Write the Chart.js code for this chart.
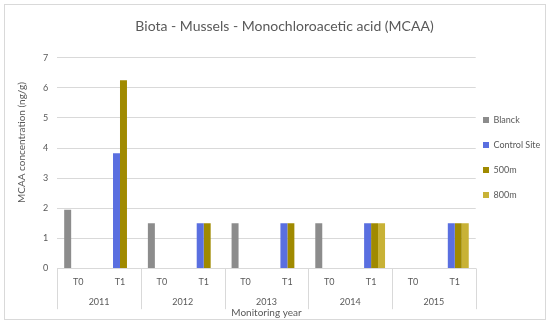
<!DOCTYPE html>
<html>
<head>
<meta charset="utf-8">
<script src="https://cdn.jsdelivr.net/npm/chart.js@4/dist/chart.umd.min.js"></script>
<style>
  html, body { margin: 0; padding: 0; background: #ffffff; }
  #wrap { position: relative; width: 550px; height: 324px; }
</style>
</head>
<body>
<div id="wrap"><canvas id="c" width="550" height="324"></canvas></div>
<script>
// ---- data ----
const phases = ['T0', 'T1', 'T0', 'T1', 'T0', 'T1', 'T0', 'T1', 'T0', 'T1'];
const years = ['2011', '2012', '2013', '2014', '2015'];
const seriesNames = ['Blanck', 'Control Site', '500m', '800m'];
const blanck      = [1.95, null, 1.5, null, 1.5, null, 1.5, null, null, null];
const controlSite = [null, 3.83, null, 1.5, null, 1.5, null, 1.5, null, 1.5];
const m500        = [null, 6.25, null, 1.5, null, 1.5, null, 1.5, null, 1.5];
const m800        = [null, null, null, null, null, null, null, 1.5, null, 1.5];
const yTicks = [0, 1, 2, 3, 4, 5, 6, 7];

const colors = ['#8c8c8c', '#5a6fe0', '#a08a00', '#c8b236'];
const textColor = '#595959';
const gridColor = '#d9d9d9';
const FONT = 'Lato, "Open Sans", "Liberation Sans", sans-serif';

// The y title in the reference sits ~20px above the plot's centre:
// pad it with leading spaces measured in the title font.
const yTitleText = 'MCAA concentration (ng/g)';
const mctx = document.createElement('canvas').getContext('2d');
mctx.font = '10px ' + FONT;
const spaceW = mctx.measureText(' ').width || 2.5;
const yTitle = ' '.repeat(Math.round(41 / spaceW)) + yTitleText;

const borderPlugin = {
  id: 'outerBorder',
  beforeDraw(chart) {
    const ctx = chart.ctx;
    ctx.save();
    ctx.strokeStyle = gridColor;
    ctx.lineWidth = 1;
    ctx.strokeRect(4.5, 4.5, 541, 315);
    ctx.restore();
  }
};

// year separators spanning both label rows, placed with the year scale
const separators = {
  id: 'yearSeparators',
  afterDraw(chart) {
    const s = chart.scales.x2;
    const ctx = chart.ctx;
    const y0 = chart.chartArea.bottom;
    const y1 = s.top + 22;
    ctx.save();
    ctx.strokeStyle = gridColor;
    ctx.lineWidth = 1;
    for (let i = 0; i <= years.length; i++) {
      const px = Math.round(s.getPixelForValue(i - 0.5)) + 0.5;
      ctx.beginPath();
      ctx.moveTo(px, y0);
      ctx.lineTo(px, y1);
      ctx.stroke();
    }
    ctx.restore();
  }
};

const legendPlace = {
  id: 'legendPlace',
  afterLayout(chart) {
    const lg = chart.legend;
    if (!lg) return;
    const pad = lg.options.labels.padding;
    lg.left = 483 - pad;
    lg.top = 120 - pad - 4.5;
  }
};

const seriesData = [blanck, controlSite, m500, m800];

new Chart(document.getElementById('c'), {
  type: 'bar',
  data: {
    labels: phases,
    datasets: seriesNames.map((n, i) => ({
      label: n,
      data: seriesData[i],
      backgroundColor: colors[i],
      borderWidth: 0,
      categoryPercentage: 0.667,
      barPercentage: 1.0,
      xAxisID: 'x',
      yAxisID: 'y'
    }))
  },
  options: {
    responsive: false,
    animation: false,
    devicePixelRatio: 1,
    layout: { padding: { left: 10, right: -9, top: 8, bottom: 5 } },
    plugins: {
      title: {
        display: true,
        text: 'Biota - Mussels - Monochloroacetic acid (MCAA)',
        color: textColor,
        font: { family: FONT, size: 14, weight: 'normal' },
        padding: { top: 10, bottom: 23 }
      },
      legend: {
        position: 'right',
        align: 'start',
        labels: {
          color: textColor,
          font: { family: FONT, size: 9 },
          boxWidth: 6,
          boxHeight: 6,
          padding: 16
        }
      },
      tooltip: { enabled: false }
    },
    scales: {
      x: {
        type: 'category',
        position: 'bottom',
        weight: 0,
        offset: true,
        grid: {
          offset: true,
          drawOnChartArea: false,
          drawTicks: true,
          tickLength: 8,
          color: 'rgba(0,0,0,0)'
        },
        border: { display: true, color: gridColor },
        ticks: {
          color: textColor,
          font: { family: FONT, size: 9 },
          padding: 0,
          maxRotation: 0,
          autoSkip: false
        }
      },
      x2: {
        type: 'category',
        position: 'bottom',
        weight: 1,
        labels: years,
        offset: true,
        grid: {
          offset: true,
          drawOnChartArea: false,
          drawTicks: true,
          tickLength: 9,
          color: 'rgba(0,0,0,0)'
        },
        border: { display: false },
        ticks: {
          color: textColor,
          font: { family: FONT, size: 9 },
          padding: 0,
          maxRotation: 0,
          autoSkip: false
        },
        title: {
          display: true,
          text: 'Monitoring year',
          color: textColor,
          font: { family: FONT, size: 10 },
          padding: { top: 0, bottom: 0 }
        }
      },
      y: {
        min: 0,
        max: 7,
        afterBuildTicks: (scale) => { scale.ticks = yTicks.map(v => ({ value: v })); },
        grid: { color: gridColor, drawTicks: false },
        border: { display: false },
        ticks: {
          color: textColor,
          font: { family: FONT, size: 9 },
          padding: 9
        },
        title: {
          display: true,
          text: yTitle,
          color: textColor,
          font: { family: FONT, size: 10 },
          padding: { top: 6, bottom: 6 }
        }
      }
    }
  },
  plugins: [borderPlugin, separators, legendPlace]
});
</script>
</body>
</html>
